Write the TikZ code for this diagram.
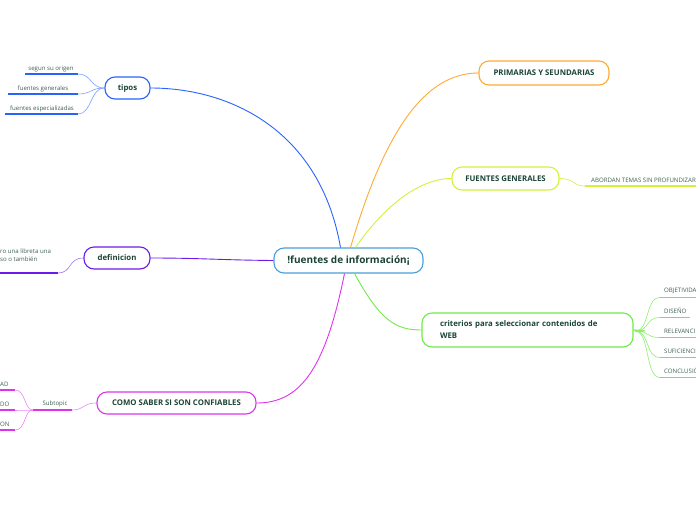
\documentclass[tikz,border=0pt]{standalone}
\usepackage{fontspec}
\setmainfont{Open Sans}
\definecolor{txt}{HTML}{1B4435}
\definecolor{cblue}{HTML}{4A9FD8}
\definecolor{tblue}{HTML}{2962FF}
\definecolor{dpurple}{HTML}{6A1BEA}
\definecolor{cmag}{HTML}{DD33EE}
\definecolor{corange}{HTML}{FFAA33}
\definecolor{cyel}{HTML}{D2F23A}
\definecolor{cgreen}{HTML}{70EA48}
\begin{document}
\begin{tikzpicture}[x=1pt,y=-1pt,
  topic/.style={draw,rounded corners=10pt,line width=1.1pt,fill=white,inner sep=0pt,
     text=txt,font=\fontsize{7.8}{9}\selectfont\bfseries},
  small/.style={inner sep=0pt,text=txt!85,font=\fontsize{6.1}{8.5}\selectfont},
  conn/.style={line width=0.9pt},
  sub/.style={line width=0.6pt},
  uline/.style={line width=1.6pt}]
\useasboundingbox (0,0) rectangle (696,520);
\clip (0,0) rectangle (696,520);

% central
\node[topic,draw=cblue,minimum width=149pt,minimum height=25pt,font=\fontsize{10}{11}\selectfont\bfseries] (c) at (348.5,260.5) {!fuentes de información¡};

% main topics
\node[topic,draw=tblue,minimum width=45pt,minimum height=22pt] (tipos) at (127.5,88) {tipos};
\node[topic,draw=dpurple,minimum width=66pt,minimum height=22pt] (def) at (117,258) {definicion};
\node[topic,draw=cmag,minimum width=159pt,minimum height=22pt] (como) at (176.5,403) {COMO SABER SI SON CONFIABLES};
\node[topic,draw=corange,minimum width=130pt,minimum height=24pt] (prim) at (544,73) {PRIMARIAS Y SEUNDARIAS};
\node[topic,draw=cyel,minimum width=107pt,minimum height=23pt] (fg) at (505.5,178.5) {FUENTES GENERALES};
\node[topic,draw=cgreen,minimum width=211pt,minimum height=34pt,align=left,text width=175pt,font=\fontsize{7.8}{12}\selectfont\bfseries] (crit) at (527.5,330) {criterios para seleccionar contenidos de\\WEB};

% main connectors
\draw[conn,tblue] ([xshift=-8pt]c.north) .. controls (320,130) and (230,88) .. (tipos.east);
\draw[conn,corange] ([xshift=2pt]c.north) .. controls (385,130) and (425,73) .. (prim.west);
\draw[conn,cyel] ([xshift=7pt]c.north) .. controls (385,205) and (420,178.5) .. (fg.west);
\draw[conn,dpurple] (c.west) .. controls (220,260) and (200,258) .. (def.east);
\draw[conn,cmag] ([xshift=-4pt]c.south) .. controls (325,370) and (300,403) .. (como.east);
\draw[conn,cgreen] ([xshift=6pt]c.south) .. controls (380,320) and (395,330) .. (crit.west);

% tipos subtopics
\coordinate (t1a) at (25,74); \coordinate (t1b) at (78,74);
\coordinate (t2a) at (8,94); \coordinate (t2b) at (78,94);
\coordinate (t3a) at (5,114); \coordinate (t3b) at (78,114);
\node[small,anchor=south] (t1) at (51,72) {segun su origen};
\node[small,anchor=south] (t2) at (43,92) {fuentes generales};
\node[small,anchor=south] (t3) at (42,112) {fuentes especializadas};
\draw[uline,tblue] (t1a) -- (t1b);
\draw[uline,tblue] (t2a) -- (t2b);
\draw[uline,tblue] (t3a) -- (t3b);
\draw[sub,tblue!60] (tipos.west) .. controls (90,88) and (92,74) .. (t1b);
\draw[sub,tblue!60] (tipos.west) .. controls (90,88) and (92,94) .. (t2b);
\draw[sub,tblue!60] (tipos.west) .. controls (90,88) and (92,114) .. (t3b);

% definicion subtopic
\coordinate (d1a) at (0,273); \coordinate (d1b) at (58,273);
\node[small,anchor=south west,align=left] (d1) at (0,262) {ro una libreta una\\so o también};
\draw[uline,dpurple] (d1a) -- (d1b);
\draw[sub,dpurple!60] (d1b) .. controls (72,273) and (68,258) .. (def.west);

% fuentes generales subtopic
\coordinate (f1a) at (585,186); \coordinate (f1b) at (696,186);
\node[small,anchor=south west] (f1) at (591,183) {ABORDAN TEMAS SIN PROFUNDIZAR};
\draw[uline,cyel] (f1a) -- (f1b);
\draw[sub,cyel] (fg.east) .. controls (575,178.5) and (572,186) .. (f1a);

% criterios subtopics
\coordinate (fork) at (635,331);
\coordinate (k1) at (660,297.5); \coordinate (k2) at (660,317.5); \coordinate (k3) at (660,337.5);
\coordinate (k4) at (660,357.5); \coordinate (k5) at (660,377.5);
\coordinate (k1e) at (696,297.5); \coordinate (k2e) at (690,317.5); \coordinate (k3e) at (696,337.5);
\coordinate (k4e) at (696,357.5); \coordinate (k5e) at (696,377.5);
\node[small,anchor=south west] (o1) at (664,294) {OBJETIVIDA};
\node[small,anchor=south west] (o2) at (664,314) {DISEÑO};
\node[small,anchor=south west] (o3) at (664,334) {RELEVANCI};
\node[small,anchor=south west] (o4) at (664,354) {SUFICIENCI};
\node[small,anchor=south west] (o5) at (664,374) {CONCLUSIÓ};
\foreach \k in {1,...,5} {
  \draw[uline,cgreen] (k\k) -- (k\k e);
  \draw[sub,cgreen!80] (crit.east) .. controls (648,331) and (645,331) .. (fork) .. controls (650,331) and (645,0|-k\k) .. (k\k);
}

% como subtopics
\coordinate (s1a) at (33,410); \coordinate (s1b) at (72,410);
\node[small,anchor=south] (s1) at (55,407) {Subtopic};
\draw[uline,cmag] (s1a) -- (s1b);
\draw[sub,cmag!60] (s1b) .. controls (85,410) and (82,403) .. (como.west);
\coordinate (m1) at (15,390); \coordinate (m2) at (15,410); \coordinate (m3) at (15,430);
\coordinate (m1a) at (0,390); \coordinate (m2a) at (0,410); \coordinate (m3a) at (0,430);
\node[small,anchor=south west] (a1) at (0,387) {AD};
\node[small,anchor=south west] (a2) at (0,407) {DO};
\node[small,anchor=south west] (a3) at (0,427) {ON};
\foreach \m in {1,2,3} {
  \draw[uline,cmag] (m\m a) -- (m\m);
  \draw[sub,cmag!60] (s1a) .. controls (24,410) and (26,0|-m\m) .. (m\m);
}
\end{tikzpicture}
\end{document}
